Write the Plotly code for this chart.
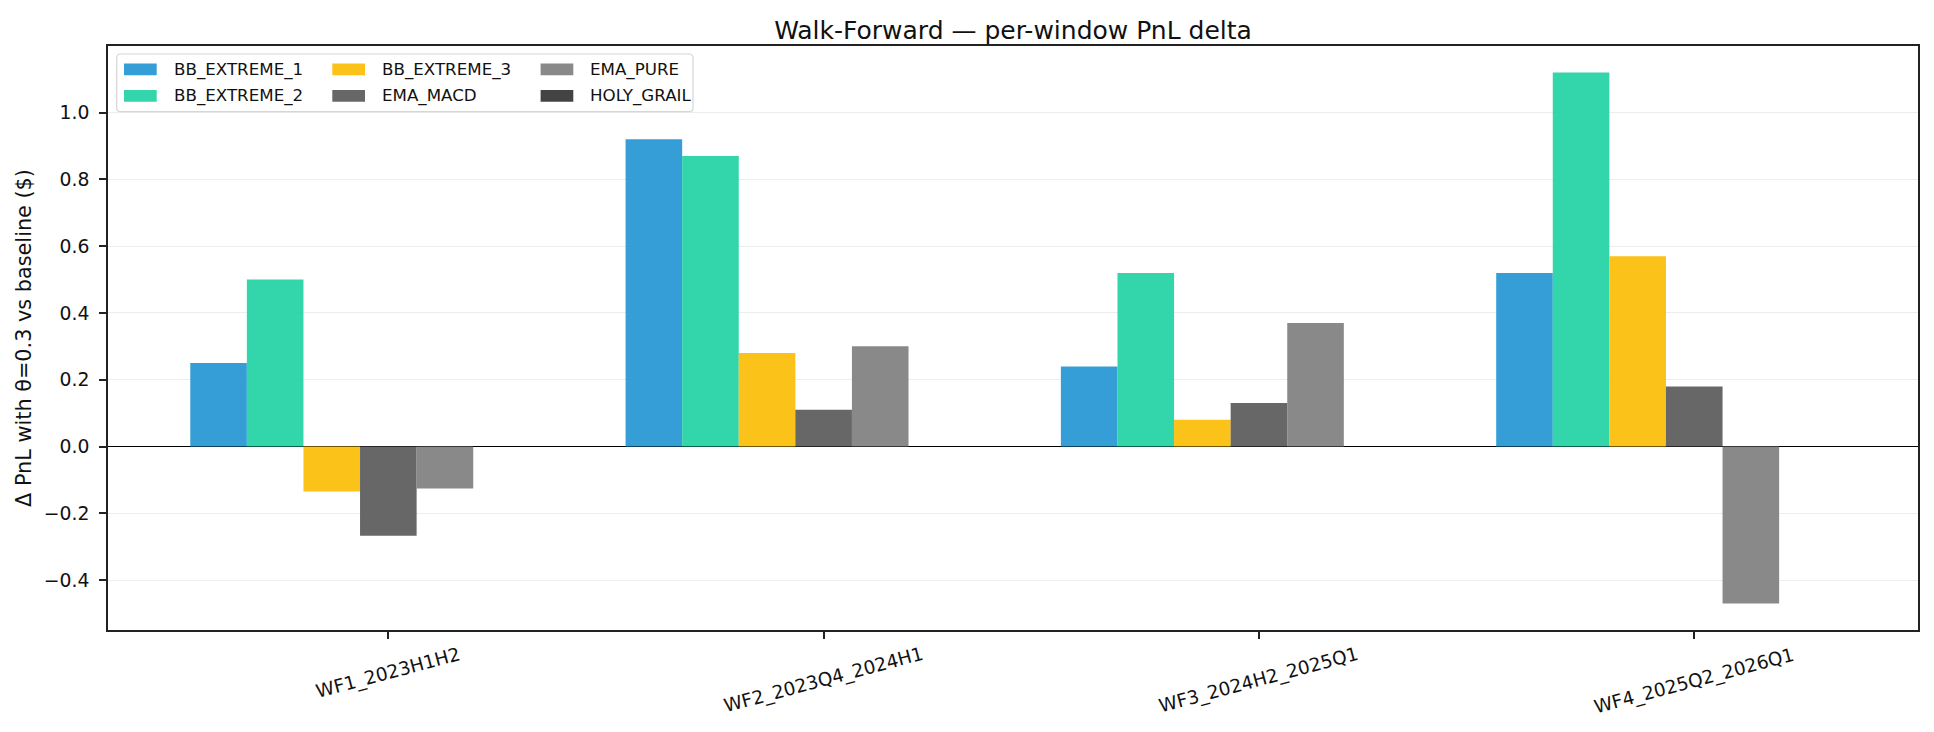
import plotly.graph_objects as go

# ---------------- data ----------------
windows = ["WF1_2023H1H2", "WF2_2023Q4_2024H1", "WF3_2024H2_2025Q1", "WF4_2025Q2_2026Q1"]
strategies = ["BB_EXTREME_1", "BB_EXTREME_2", "BB_EXTREME_3", "EMA_MACD", "EMA_PURE", "HOLY_GRAIL"]
bb_extreme_1 = [0.25, 0.92, 0.24, 0.52]
bb_extreme_2 = [0.50, 0.87, 0.52, 1.12]
bb_extreme_3 = [-0.135, 0.28, 0.08, 0.57]
ema_macd = [-0.267, 0.11, 0.13, 0.18]
ema_pure = [-0.126, 0.30, 0.37, -0.47]
holy_grail = [0.0, 0.0, 0.0, 0.0]
series = [bb_extreme_1, bb_extreme_2, bb_extreme_3, ema_macd, ema_pure, holy_grail]
yticks = [-0.4, -0.2, 0.0, 0.2, 0.4, 0.6, 0.8, 1.0]

# ---------------- style ----------------
colors = ["#1F93D3", "#1DD1A2", "#FBBB00", "#565656", "#7C7C7C", "#2F2F2F"]
ALPHA = 0.9
BAR_W = 0.13
FONT = "DejaVu Sans"

FIG_W, FIG_H = 1934, 732
PL, PR, PT, PB = 108, 1918, 46, 630
PW, PH = PR - PL, PB - PT


def px_x(px):
    return (px - PL) / PW


def px_y(py):
    return (PB - py) / PH


xpos = list(range(len(windows)))
n = len(strategies)

fig = go.Figure()
for i, (name, vals, col) in enumerate(zip(strategies, series, colors)):
    # bar i centred at x + (i - n/2) * w  (left edge one half-width before)
    fig.add_trace(go.Bar(
        x=xpos, y=vals, name=name,
        width=BAR_W, offset=(i - n / 2 - 0.5) * BAR_W,
        marker=dict(color=col, line=dict(width=0)),
        opacity=ALPHA, showlegend=False,
    ))

# x tick labels (matplotlib-style: rotated, bbox centred under tick, top-aligned)
annotations = []
for xi, lab in zip(xpos, windows):
    annotations.append(dict(
        x=xi, y=px_y(642), xref="x", yref="paper",
        text=lab, showarrow=False, textangle=-15,
        xanchor="center", yanchor="top", borderpad=0,
        font=dict(family=FONT, size=18.5, color="#111111"),
    ))

# custom legend (3 columns, column-major like matplotlib)
shapes = []
lx0, lx1, ly0, ly1 = 116.7, 693, 54, 111.7
r = 4
path = (f"M {px_x(lx0 + r)},{px_y(ly0)} L {px_x(lx1 - r)},{px_y(ly0)} "
        f"Q {px_x(lx1)},{px_y(ly0)} {px_x(lx1)},{px_y(ly0 + r)} "
        f"L {px_x(lx1)},{px_y(ly1 - r)} Q {px_x(lx1)},{px_y(ly1)} {px_x(lx1 - r)},{px_y(ly1)} "
        f"L {px_x(lx0 + r)},{px_y(ly1)} Q {px_x(lx0)},{px_y(ly1)} {px_x(lx0)},{px_y(ly1 - r)} "
        f"L {px_x(lx0)},{px_y(ly0 + r)} Q {px_x(lx0)},{px_y(ly0)} {px_x(lx0 + r)},{px_y(ly0)} Z")
shapes.append(dict(type="path", path=path, xref="paper", yref="paper",
                   line=dict(color="#d6d6d6", width=1.2), fillcolor="rgba(255,255,255,0.85)",
                   layer="above"))
col_dx = 208.3
row_y = [69.3, 95.8]
sw_x0, sw_w, sw_h, txt_dx = 124.0, 32.7, 11.8, 47.7
for k, (name, col) in enumerate(zip(strategies, colors)):
    c, rr = divmod(k, 2)
    x0 = sw_x0 + c * col_dx
    yc = row_y[rr]
    shapes.append(dict(type="rect", xref="paper", yref="paper",
                       x0=px_x(x0), x1=px_x(x0 + sw_w),
                       y0=px_y(yc + sw_h / 2), y1=px_y(yc - sw_h / 2),
                       fillcolor=col, opacity=ALPHA, line=dict(width=0), layer="above"))
    annotations.append(dict(
        x=px_x(x0 + txt_dx), y=px_y(yc), xref="paper", yref="paper",
        text=name, showarrow=False, xanchor="left", yanchor="middle",
        font=dict(family=FONT, size=16.7, color="#111111"),
    ))

fig.update_layout(
    width=FIG_W, height=FIG_H,
    margin=dict(l=PL, r=FIG_W - PR, t=PT, b=FIG_H - PB, pad=0),
    paper_bgcolor="white", plot_bgcolor="white",
    barmode="overlay",
    font=dict(family=FONT, color="#111111"),
    title=dict(text="Walk-Forward — per-window PnL delta",
               x=0.5, xref="paper", xanchor="center",
               y=1 - 38.5 / FIG_H, yref="container", yanchor="bottom",
               font=dict(family=FONT, size=25, color="#111111")),
    xaxis=dict(range=[-0.644, 3.514], tickvals=xpos, ticktext=[""] * len(xpos),
               showgrid=False, zeroline=False,
               showline=True, linecolor="#222222", linewidth=1.7, mirror=True,
               ticks="outside", ticklen=7, tickwidth=1.5, tickcolor="#222222"),
    yaxis=dict(range=[-0.5495, 1.1995], tickvals=yticks, tickformat=".1f",
               showgrid=True, gridcolor="#EDEDED", gridwidth=1.3,
               zeroline=True, zerolinecolor="#000000", zerolinewidth=1.2,
               showline=True, linecolor="#222222", linewidth=1.7, mirror=True,
               ticks="outside", ticklen=7, tickwidth=1.5, tickcolor="#222222",
               ticklabelstandoff=6,
               tickfont=dict(family=FONT, size=18.8, color="#111111"),
               title=dict(text="Δ PnL with θ=0.3 vs baseline ($)", standoff=7,
                          font=dict(family=FONT, size=20.8, color="#111111"))),
    annotations=annotations,
    shapes=shapes,
)

fig.write_html("out.html")
